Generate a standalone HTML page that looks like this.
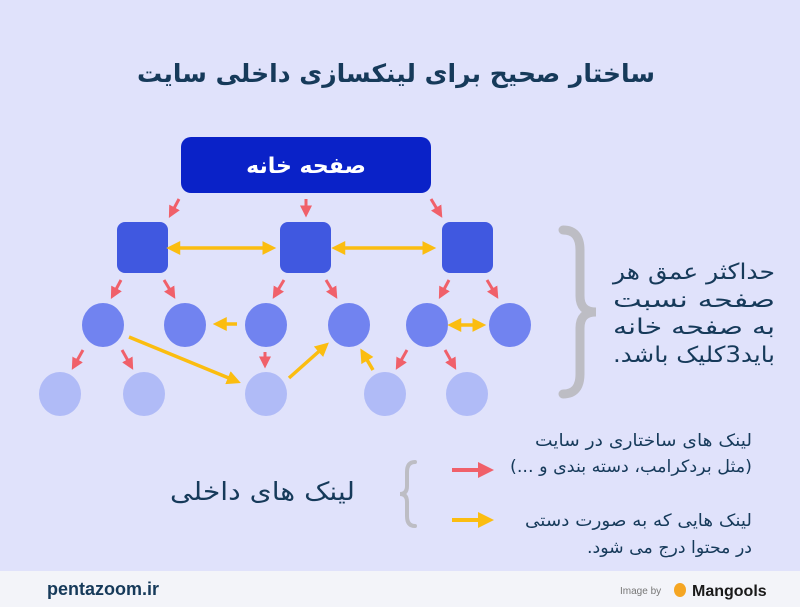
<!DOCTYPE html>
<html><head><meta charset="utf-8"><style>
body{margin:0;width:800px;height:607px;overflow:hidden;background:#e0e2fb;}
svg{display:block}
</style></head><body>
<svg width="800" height="607" viewBox="0 0 800 607" xmlns="http://www.w3.org/2000/svg" font-family="'Liberation Sans','DejaVu Sans',sans-serif">
<defs>
<marker id="r" markerWidth="4" markerHeight="4" refX="2.5" refY="2" orient="auto" markerUnits="strokeWidth"><path d="M0,0 L4,2 L0,4 Z" fill="#f0606a"/></marker>
<marker id="y" markerWidth="4" markerHeight="4" refX="2.5" refY="2" orient="auto" markerUnits="strokeWidth"><path d="M0,0 L4,2 L0,4 Z" fill="#fbbd10"/></marker>
<marker id="ys" markerWidth="4" markerHeight="4" refX="1.5" refY="2" orient="auto-start-reverse" markerUnits="strokeWidth"><path d="M0,0 L4,2 L0,4 Z" fill="#fbbd10"/></marker>
</defs>
<rect width="800" height="607" fill="#e0e2fb"/>
<text x="396" y="82" text-anchor="middle" font-size="25" font-weight="bold" fill="#163a5a" font-family="'DejaVu Sans',sans-serif" direction="rtl" textLength="518" lengthAdjust="spacingAndGlyphs">ساختار صحیح برای لینکسازی داخلی سایت</text>
<rect x="181" y="137" width="250" height="56" rx="10" fill="#0a22c8"/>
<text x="306" y="173" text-anchor="middle" font-size="22" font-weight="bold" fill="#fff" font-family="'DejaVu Sans',sans-serif" direction="rtl">صفحه خانه</text>
<g fill="#4058e0">
<rect x="117" y="222" width="51" height="51" rx="8"/>
<rect x="280" y="222" width="51" height="51" rx="8"/>
<rect x="442" y="222" width="51" height="51" rx="8"/>
</g>
<g fill="#7183f0">
<ellipse cx="103" cy="325" rx="21" ry="22"/><ellipse cx="185" cy="325" rx="21" ry="22"/><ellipse cx="266" cy="325" rx="21" ry="22"/><ellipse cx="349" cy="325" rx="21" ry="22"/><ellipse cx="427" cy="325" rx="21" ry="22"/><ellipse cx="510" cy="325" rx="21" ry="22"/>
</g>
<g fill="#b0bbf7">
<ellipse cx="60" cy="394" rx="21" ry="22"/><ellipse cx="144" cy="394" rx="21" ry="22"/><ellipse cx="266" cy="394" rx="21" ry="22"/><ellipse cx="385" cy="394" rx="21" ry="22"/><ellipse cx="467" cy="394" rx="21" ry="22"/>
</g>
<g stroke="#f0606a" stroke-width="3" marker-end="url(#r)">
<line x1="179" y1="199" x2="171" y2="214"/><line x1="306" y1="199" x2="306" y2="213"/><line x1="431" y1="199" x2="440" y2="214"/>
<line x1="121" y1="280" x2="113" y2="295"/><line x1="164" y1="280" x2="173" y2="295"/>
<line x1="284" y1="280" x2="275" y2="295"/><line x1="326" y1="280" x2="335" y2="295"/>
<line x1="449" y1="280" x2="441" y2="295"/><line x1="487" y1="280" x2="496" y2="295"/>
<line x1="83" y1="350" x2="74" y2="366"/><line x1="122" y1="350" x2="131" y2="366"/>
<line x1="265" y1="352" x2="265" y2="364"/>
<line x1="407" y1="350" x2="398" y2="366"/><line x1="445" y1="350" x2="454" y2="366"/>
</g>
<g stroke="#fbbd10" stroke-width="3.5">
<line x1="175" y1="248" x2="271" y2="248" marker-start="url(#ys)" marker-end="url(#y)"/>
<line x1="340" y1="248" x2="431" y2="248" marker-start="url(#ys)" marker-end="url(#y)"/>
<line x1="456" y1="325" x2="481" y2="325" marker-start="url(#ys)" marker-end="url(#y)"/>
<line x1="237" y1="324" x2="218" y2="324" marker-end="url(#y)"/>
<line x1="129" y1="337" x2="236" y2="381" marker-end="url(#y)"/>
<line x1="289" y1="378" x2="325" y2="346" marker-end="url(#y)"/>
<line x1="373" y1="370" x2="363" y2="353" marker-end="url(#y)"/>
</g>
<path d="M563,230 Q580,230 580,250 L580,296 Q580,312 596,312 Q580,312 580,328 L580,374 Q580,394 563,394" fill="none" stroke="#bdbdc4" stroke-width="9" stroke-linecap="round"/>
<g font-size="22" fill="#163a5a" text-anchor="start" font-family="'DejaVu Sans',sans-serif" direction="rtl" lengthAdjust="spacingAndGlyphs">
<text x="775" y="279" textLength="162" lengthAdjust="spacingAndGlyphs">حداکثر عمق هر</text>
<text x="775" y="307" textLength="162" lengthAdjust="spacingAndGlyphs">صفحه    نسبت</text>
<text x="775" y="334" textLength="162" lengthAdjust="spacingAndGlyphs">به صفحه خانه</text>
<text x="775" y="362" textLength="162" lengthAdjust="spacingAndGlyphs">باید3کلیک باشد.</text>
</g>
<text x="355" y="500" text-anchor="start" font-size="25" fill="#163a5a" font-family="'DejaVu Sans',sans-serif" direction="rtl" textLength="185" lengthAdjust="spacingAndGlyphs">لینک های داخلی</text>
<path d="M415,462 Q407,462 407,472 L407,486 Q407,494 400,494 Q407,494 407,502 L407,516 Q407,526 415,526" fill="none" stroke="#bdbdc4" stroke-width="4" stroke-linecap="round"/>
<line x1="452" y1="470" x2="488" y2="470" stroke="#f0606a" stroke-width="4" marker-end="url(#r)"/>
<line x1="452" y1="520" x2="488" y2="520" stroke="#fbbd10" stroke-width="4" marker-end="url(#y)"/>
<g font-size="17" fill="#163a5a" text-anchor="start" font-family="'DejaVu Sans',sans-serif" direction="rtl">
<text x="752" y="446" textLength="217" lengthAdjust="spacingAndGlyphs">لینک های ساختاری در سایت</text>
<text x="752" y="472" textLength="242" lengthAdjust="spacingAndGlyphs">(مثل بردکرامب، دسته بندی و ...)</text>
<text x="752" y="526" textLength="227" lengthAdjust="spacingAndGlyphs">لینک هایی که به صورت دستی</text>
<text x="752" y="553" textLength="165" lengthAdjust="spacingAndGlyphs">در محتوا درج می شود.</text>
</g>
<rect x="0" y="571" width="800" height="36" fill="#f3f4f9"/>
<text x="47" y="595" font-size="18" font-weight="bold" fill="#163a5a">pentazoom.ir</text>
<text x="620" y="594" font-size="10" fill="#777">Image by</text>
<ellipse cx="680" cy="590" rx="6" ry="7" fill="#f5a623"/>
<text x="692" y="596" font-size="16" font-weight="bold" fill="#1a1a1a">Mangools</text>
</svg>
</body></html>
